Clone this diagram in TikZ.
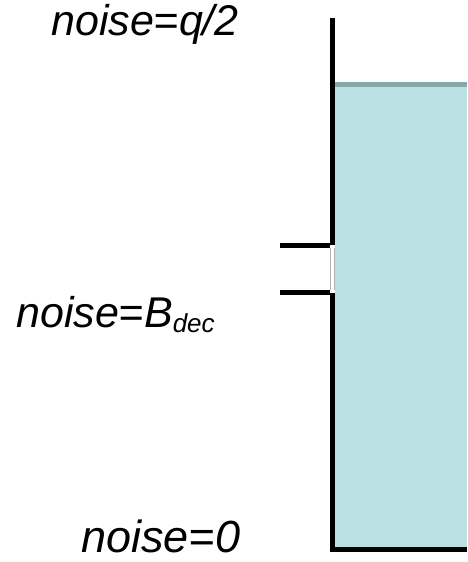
\documentclass[tikz,border=0pt]{standalone}
\usepackage{fontspec}
\setmainfont{Liberation Sans}
\definecolor{tankfill}{HTML}{BAE0E3}
\definecolor{tanktop}{HTML}{88A8A8}
\definecolor{gapedge}{HTML}{B0B0B0}
\tikzset{
  lbl/.style={anchor=base west, inner sep=0pt, text depth=0pt, font=\fontsize{43}{50}\selectfont\itshape},
  wall/.style={line width=5pt, black},
}
\begin{document}
\begin{tikzpicture}[x=1pt,y=-1pt]
\useasboundingbox (0,0) rectangle (467,562);
% water
\fill[tankfill] (335,84) rectangle (467,547);
\draw[tanktop, line width=5pt] (335,84.5) -- (467,84.5);
% wall with slot
\coordinate (wtop) at (332.5,18);
\coordinate (slotA) at (332.5,245);
\coordinate (slotB) at (332.5,292.5);
\coordinate (corner) at (332.5,549);
\coordinate (bend) at (467,549);
\coordinate (stubA) at (280,245);
\coordinate (stubB) at (280,292.5);
\draw[wall] (wtop) -- (slotA);
\draw[wall, line join=miter] (slotB) -- (corner) -- (bend);
\draw[wall] (stubA) -- (330,245);
\draw[wall] (stubB) -- (330,292.5);
\fill[white] (330.2,247.5) rectangle (334.8,290);
\draw[gapedge, line width=0.6pt] (330.3,247.5) -- (330.3,290);
\draw[gapedge, line width=0.6pt] (334.7,247.5) -- (334.7,290);
% labels
\node[lbl] (top) at (51,35) {noise=q/2};
\node[lbl] (mid) at (16,327) {noise=B{\fontsize{26}{26}\selectfont\raisebox{-5pt}{dec}}};
\node[lbl, font=\fontsize{45}{50}\selectfont\itshape] (bot) at (81,552) {noise=0};
\end{tikzpicture}
\end{document}
